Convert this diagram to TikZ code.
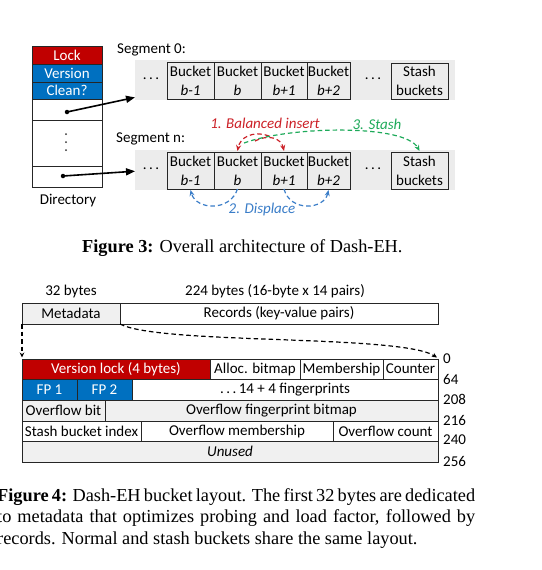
\documentclass[tikz,border=0pt]{standalone}
\usepackage{fontspec}
\setmainfont{Carlito}
\newfontfamily\capfont{Liberation Serif}
\usetikzlibrary{arrows.meta,calc}
\definecolor{lockred}{RGB}{192,0,0}
\definecolor{fieldblue}{RGB}{0,112,192}
\definecolor{insred}{RGB}{204,32,39}
\definecolor{dispblue}{RGB}{58,125,200}
\definecolor{stashgreen}{RGB}{30,170,90}
\definecolor{segbg}{RGB}{236,236,236}
\definecolor{cellgray}{RGB}{240,240,240}
\begin{document}
\begin{tikzpicture}[x=1pt,y=-1pt,
  font=\fontsize{15}{19}\selectfont,
  cell/.style={draw=black!85, line width=0.9pt, anchor=north west, inner sep=0pt, outer sep=0pt, align=center},
  bucket/.style={cell, minimum height=37pt},
  segback/.style={fill=segbg, draw=none, anchor=north west, inner sep=0pt, minimum width=320pt, minimum height=40pt},
  ptr/.style={line width=1.6pt, -{Triangle[length=9pt,width=7pt]}},
  ptrdot/.style={circle, fill=black, inner sep=0pt, minimum size=4.5pt},
  vdotmark/.style={circle, fill=black!80, inner sep=0pt, minimum size=2pt},
  dsh/.style={line width=1.2pt, dash pattern=on 4.5pt off 3pt},
  insarrow/.style={dsh, draw=insred, -{Stealth[length=6pt,width=5pt]}},
  disparrow/.style={dsh, draw=dispblue, -{Stealth[length=6pt,width=5pt]}},
  stasharrow/.style={dsh, draw=stashgreen, -{Stealth[length=6pt,width=5pt]}},
  layarrow/.style={dsh, draw=black, -{Stealth[length=5pt,width=4.5pt]}},
  captext/.style={font=\capfont\fontsize{18.3}{21.5}\selectfont, inner sep=0pt, anchor=base west}
]
\useasboundingbox[fill=white] (0,0) rectangle (541,570);

% ---------- Directory ----------
\node[cell, minimum width=70pt, minimum height=18pt, fill=lockred, text=white] (lock) at (32,46) {Lock};
\node[cell, minimum width=70pt, minimum height=18pt, fill=fieldblue, text=white] (version) at (32,64) {Version};
\node[cell, minimum width=70pt, minimum height=17pt, fill=fieldblue, text=white] (clean) at (32,82) {Clean?};
\node[cell, minimum width=70pt, minimum height=21pt] (d1) at (32,99) {};
\node[cell, minimum width=70pt, minimum height=46pt] (d2) at (32,120) {};
\node[cell, minimum width=70pt, minimum height=21pt] (d3) at (32,166) {};
\node[vdotmark] (vd1) at (66,134) {};
\node[vdotmark] (vd2) at (66,142) {};
\node[vdotmark] (vd3) at (66,150) {};
\node[anchor=center] (dirlabel) at (68,201) {Directory};
\node[ptrdot] (p0) at (67,112) {};
\node[ptrdot] (p1) at (63,176) {};

% ---------- Segment 0 ----------
\node[anchor=west, inner sep=0pt] (seg0label) at (117,50) {Segment 0:};
\node[segback] (seg0) at (135,60) {};
\node[inner sep=0pt] (dl0) at (151,79) {.\,.\,.};
\node[bucket, minimum width=47pt] (s0bm1) at (167,62) {Bucket\\\textit{b-1}};
\node[bucket, minimum width=47pt] (s0b) at (214,62) {Bucket\\\textit{b}};
\node[bucket, minimum width=46pt] (s0bp1) at (261,62) {Bucket\\\textit{b+1}};
\node[bucket, minimum width=43pt] (s0bp2) at (307,62) {Bucket\\\textit{b+2}};
\node[inner sep=0pt] (dr0) at (373,79) {.\,.\,.};
\node[cell, minimum width=57pt, minimum height=36pt] (s0stash) at (391,63) {Stash\\buckets};

% ---------- Segment n ----------
\node[anchor=west, inner sep=0pt] (seg1label) at (116,139) {Segment n:};
\node[segback] (seg1) at (135,150) {};
\node[inner sep=0pt] (dl1) at (151,169) {.\,.\,.};
\node[bucket, minimum width=47pt] (s1bm1) at (167,152) {Bucket\\\textit{b-1}};
\node[bucket, minimum width=47pt] (s1b) at (214,152) {Bucket\\\textit{b}};
\node[bucket, minimum width=46pt] (s1bp1) at (261,152) {Bucket\\\textit{b+1}};
\node[bucket, minimum width=43pt] (s1bp2) at (307,152) {Bucket\\\textit{b+2}};
\node[inner sep=0pt] (dr1) at (373,169) {.\,.\,.};
\node[cell, minimum width=57pt, minimum height=37pt] (s1stash) at (391,152) {Stash\\buckets};

% pointers
\coordinate (t0) at ($(seg0.south west)+(0,-3)$);
\coordinate (t1) at ($(seg1.west)+(0,1)$);
\draw[ptr] (p0.center) -- (t0);
\draw[ptr] (p1.center) -- (t1);

% operation labels
\node[text=insred, font=\fontsize{15}{19}\selectfont\itshape] (inslabel) at (265,123) {1. Balanced insert};
\node[text=stashgreen, font=\fontsize{15}{19}\selectfont\itshape] (stashlabel) at (377,124) {3. Stash};
\node[text=dispblue, font=\fontsize{15}{19}\selectfont\itshape] (displabel) at (262,209) {2. Displace};

% balanced insert (red)
\coordinate (ra) at (269,136);
\coordinate (rb) at (255,141);
\draw[insarrow] (ra) .. controls (252,130) and (240,138) .. ($(s1b.north)+(0,-1)$);
\draw[insarrow] (rb) .. controls (268,134) and (281,138) .. ($(s1bp1.north)+(0,-1)$);
% stash (green)
\coordinate (ga) at (244,143);
\draw[stasharrow] (ga) .. controls (290,126) and (405,124) .. ($(s1stash.north)+(0,-1)$);
% displace (blue)
\draw[disparrow] (s1b.south) .. controls (230,212) and (196,210) .. ($(s1bm1.south)+(0,1)$);
\draw[disparrow] (s1bp1.south) .. controls (290,212) and (324,210) .. ($(s1bp2.south)+(0,1)$);

% caption fig 3
\node[captext] (cap3) at (82,252) {\textbf{Figure 3:} Overall architecture of Dash-EH.};

% ---------- Figure 4 ----------
\node (h32) at (71,291) {32 bytes};
\node (h224) at (275,291) {224 bytes (16-byte x 14 pairs)};
\node[cell, minimum width=98pt, minimum height=21pt, fill=cellgray] (meta) at (22,303) {Metadata};
\node[cell, minimum width=318pt, minimum height=21pt] (records) at (120,303) {Records (key-value pairs)};

\node[cell, minimum width=188pt, minimum height=20pt, fill=lockred, text=white] (vlock) at (22,359) {Version lock (4 bytes)};
\node[cell, minimum width=90pt, minimum height=20pt] (alloc) at (210,359) {Alloc. bitmap};
\node[cell, minimum width=83pt, minimum height=20pt] (memb) at (300,359) {Membership};
\node[cell, minimum width=55pt, minimum height=20pt] (counter) at (383,359) {Counter};

\node[cell, minimum width=55pt, minimum height=21pt, fill=fieldblue, text=white] (fp1) at (22,379) {FP 1};
\node[cell, minimum width=55pt, minimum height=21pt, fill=fieldblue, text=white] (fp2) at (77,379) {FP 2};
\node[cell, minimum width=306pt, minimum height=21pt] (fps) at (132,379) {.\,.\,.\,14 + 4 fingerprints};

\node[cell, minimum width=83pt, minimum height=21pt, fill=cellgray] (ofb) at (22,400) {Overflow bit};
\node[cell, minimum width=333pt, minimum height=21pt, fill=cellgray] (ofp) at (105,400) {Overflow fingerprint bitmap};

\node[cell, minimum width=119pt, minimum height=20pt] (sbi) at (22,421) {Stash bucket index};
\node[cell, minimum width=192pt, minimum height=20pt] (om) at (141,421) {Overflow membership};
\node[cell, minimum width=105pt, minimum height=20pt] (oc) at (333,421) {Overflow count};

\node[cell, minimum width=416pt, minimum height=21pt, fill=cellgray, font=\fontsize{15}{19}\selectfont\itshape] (unused) at (22,441) {Unused};

% offsets
\node[anchor=west, inner sep=0pt] (o0) at (443,359) {0};
\node[anchor=west, inner sep=0pt] (o64) at (443,379) {64};
\node[anchor=west, inner sep=0pt] (o208) at (443,399.5) {208};
\node[anchor=west, inner sep=0pt] (o216) at (443,420) {216};
\node[anchor=west, inner sep=0pt] (o240) at (443,440) {240};
\node[anchor=west, inner sep=0pt] (o256) at (443,461.5) {256};

% dashed expansion arrows
\draw[layarrow] (meta.south west) -- ($(vlock.north west)+(0,-1.5)$);
\draw[layarrow] (meta.south east) .. controls (160,345) and (400,334) .. ($(counter.north east)+(-1,-1.5)$);

% caption fig 4
\node[captext] (c4a) at (-3,501) {\makebox[478pt][s]{\textbf{Figure 4:} Dash-EH bucket layout. The first 32 bytes are dedicated}};
\node[captext] (c4b) at (-3,522.5) {\makebox[478pt][s]{to metadata that optimizes probing and load factor, followed by}};
\node[captext] (c4c) at (-3,544) {records. Normal and stash buckets share the same layout.};
\end{tikzpicture}
\end{document}
